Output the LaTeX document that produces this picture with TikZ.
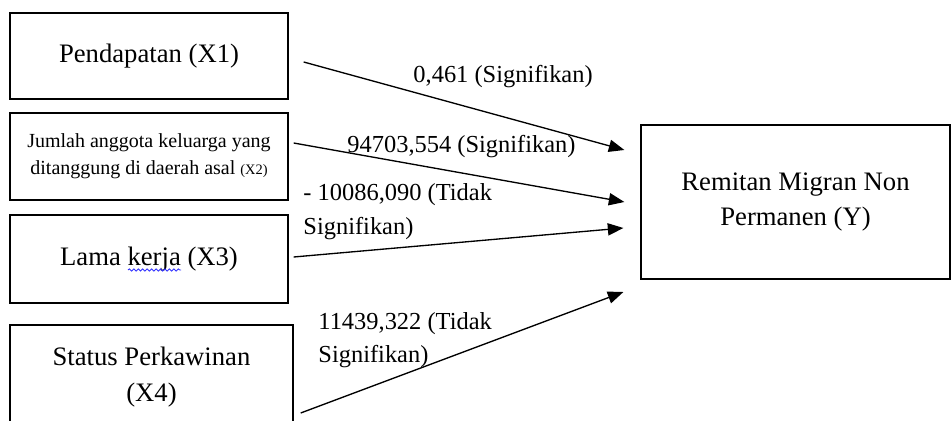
\documentclass[tikz,border=0pt]{standalone}
\usepackage{fontspec}
\setmainfont{Liberation Serif}
\usetikzlibrary{arrows.meta}
\usetikzlibrary{calc}
\usetikzlibrary{decorations.pathmorphing}
\tikzstyle{factor box}=[draw, semithick, inner sep=0pt, align=center, font=\fontsize{12}{16}\selectfont]
\tikzstyle{coefficient}=[anchor=west, inner sep=0pt, align=left, font=\fontsize{11}{15}\selectfont]
\tikzstyle{effect}=[semithick, -{Triangle[length=7pt, width=5.5pt]}]
\tikzstyle{spelling}=[blue!80, line width=0.4pt, decorate, decoration={snake, amplitude=0.5pt, segment length=2pt}]

\begin{document}
\begin{tikzpicture}[x=0.45pt, y=-0.45pt]
      \useasboundingbox (0,0) rectangle (951,421);
      \clip (0,0) rectangle (951,421);
      \node[factor box, minimum width=125.1pt, minimum height=38.7pt] (x1) at (149,56) {Pendapatan (X1)};
      \node[factor box, minimum width=125.1pt, minimum height=39.2pt, font=\fontsize{9}{12}\selectfont] (x2) at (149,156.5)
        {Jumlah anggota keluarga yang\\ ditanggung di daerah asal {\fontsize{6.5}{12}\selectfont(X2)}};
      \node[factor box, minimum width=125.1pt, minimum height=39.6pt] (x3) at (149,259) {Lama kerja (X3)};
      \node[factor box, minimum width=127.4pt, minimum height=46.8pt] (x4) at (151.5,377) {Status Perkawinan\\ (X4)};
      \node[factor box, minimum width=139pt, minimum height=69.3pt] (rem) at (795.5,202) {Remitan Migran Non\\ Permanen (Y)};
      \node[coefficient] (c1) at (413,77) {0,461 (Signifikan)};
      \node[coefficient] (c2) at (347,147) {94703,554 (Signifikan)};
      \node[coefficient] (c3) at (303,211.5) {- 10086,090 (Tidak\\ Signifikan)};
      \node[coefficient] (c4) at (318,340) {11439,322 (Tidak\\ Signifikan)};
      % wavy underline under "kerja"
      \draw[spelling] ($(x3.center)+(-21,11)$) -- ($(x3.center)+(32,11)$);
      \draw[effect] ($(x1.east)+(15,6)$) to ($(rem.west)+(-16,-52)$);
      \draw[effect] ($(x2.east)+(5,-13.5)$) to ($(rem.west)+(-16,0)$);
      \draw[effect] ($(x3.east)+(5,-2)$) to ($(rem.west)+(-17,26)$);
      \draw[effect] ($(x4.east)+(7,36)$) to ($(rem.west)+(-17,90)$);
    \end{tikzpicture}
\end{document}
